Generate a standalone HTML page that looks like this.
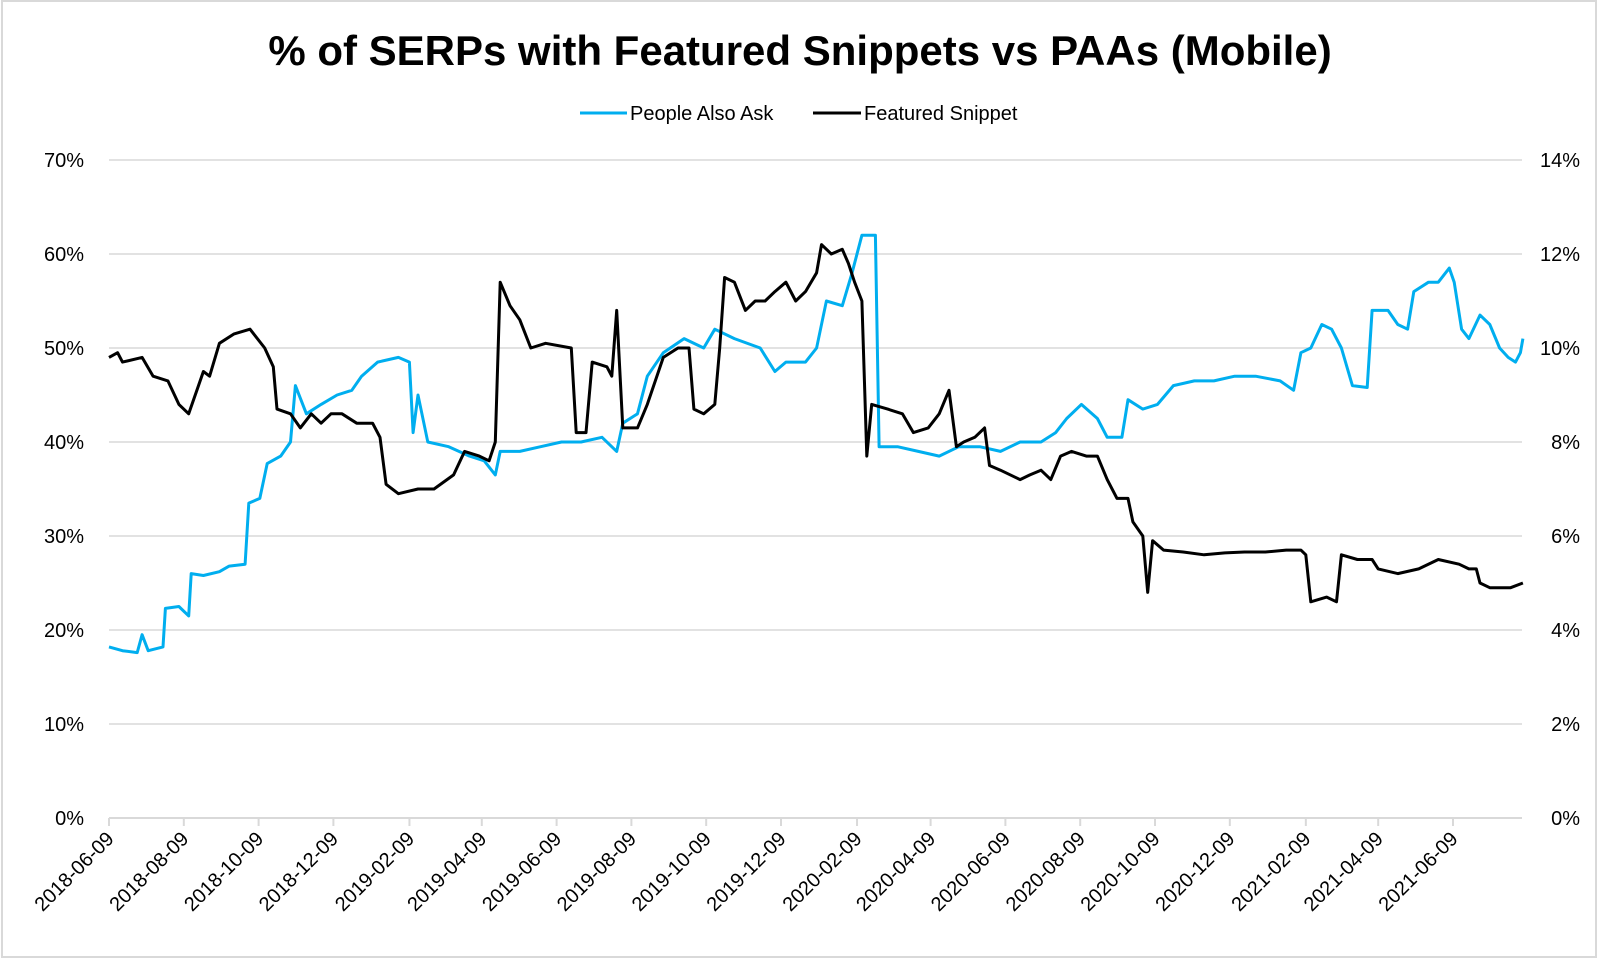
<!DOCTYPE html>
<html><head><meta charset="utf-8"><style>
html,body{margin:0;padding:0;background:#fff;}
svg text{font-family:"Liberation Sans",sans-serif;}
</style></head><body>
<svg id="chart" width="1600" height="962" xmlns="http://www.w3.org/2000/svg">
<rect x="2" y="1" width="1594" height="956" fill="#fff" stroke="#d9d9d9" stroke-width="2"/>
<text x="800" y="65" text-anchor="middle" font-size="42" font-weight="bold" fill="#000">% of SERPs with Featured Snippets vs PAAs (Mobile)</text>
<g>
<g><line x1="580" y1="113" x2="627" y2="113" stroke="#00aeef" stroke-width="3"/><text x="630" y="120" font-size="20" fill="#000">People Also Ask</text></g>
<g><line x1="813" y1="113" x2="861" y2="113" stroke="#000" stroke-width="3"/><text x="864" y="120" font-size="20" fill="#000">Featured Snippet</text></g>
</g>
<g id="grid"></g><g id="axes"></g><g id="series"></g>
</svg>
<script>
const leftTicks=[0,10,20,30,40,50,60,70];
const rightTicks=[0,2,4,6,8,10,12,14];
const xTickLabels=["2018-06-09","2018-08-09","2018-10-09","2018-12-09","2019-02-09","2019-04-09","2019-06-09","2019-08-09","2019-10-09","2019-12-09","2020-02-09","2020-04-09","2020-06-09","2020-08-09","2020-10-09","2020-12-09","2021-02-09","2021-04-09","2021-06-09"];
const paaDays=[0,11,23,27,32,44,46,57,65,67,77,90,98,111,114,123,129,140,148,152,161,173,186,198,206,219,236,245,248,252,260,277,294,306,315,319,335,352,369,385,402,414,419,431,439,452,469,485,494,510,531,543,552,568,577,585,598,606,614,625,628,643,660,677,693,710,727,743,760,772,781,793,806,814,826,831,843,855,868,885,901,918,935,955,966,972,980,989,997,1005,1014,1026,1030,1043,1051,1059,1064,1076,1084,1093,1097,1103,1109,1118,1126,1134,1141,1147,1151,1153];
const paaVals=[18.2,17.8,17.6,19.5,17.8,18.2,22.3,22.5,21.5,26,25.8,26.2,26.8,27,33.5,34,37.7,38.5,40,46,43,44,45,45.5,47,48.5,49,48.5,41,45,40,39.5,38.5,38,36.5,39,39,39.5,40,40,40.5,39,42,43,47,49.5,51,50,52,51,50,47.5,48.5,48.5,50,55,54.5,58,62,62,39.5,39.5,39,38.5,39.5,39.5,39,40,40,41,42.5,44,42.5,40.5,40.5,44.5,43.5,44,46,46.5,46.5,47,47,46.5,45.5,49.5,50,52.5,52,50,46,45.8,54,54,52.5,52,56,57,57,58.5,57,52,51,53.5,52.5,50,49,48.5,49.5,51];
const fsDays=[0,7,11,27,36,48,57,65,73,77,82,90,102,115,127,134,137,148,156,165,173,181,190,202,215,221,226,236,252,265,281,290,302,310,315,319,327,335,344,356,377,381,389,394,406,410,414,419,431,439,452,464,473,477,485,494,498,502,510,519,527,535,543,552,560,568,577,581,589,598,603,608,614,618,622,635,647,656,668,677,685,691,697,706,714,718,727,743,751,760,768,776,785,797,806,814,822,831,835,843,847,851,860,876,893,910,926,943,960,972,976,980,993,1001,1005,1018,1030,1035,1051,1068,1084,1101,1109,1115,1118,1126,1143,1153];
const fsVals=[9.8,9.9,9.7,9.8,9.4,9.3,8.8,8.6,9.2,9.5,9.4,10.1,10.3,10.4,10.0,9.6,8.7,8.6,8.3,8.6,8.4,8.6,8.6,8.4,8.4,8.1,7.1,6.9,7.0,7.0,7.3,7.8,7.7,7.6,8.0,11.4,10.9,10.6,10.0,10.1,10.0,8.2,8.2,9.7,9.6,9.4,10.8,8.3,8.3,8.8,9.8,10.0,10.0,8.7,8.6,8.8,10.0,11.5,11.4,10.8,11.0,11.0,11.2,11.4,11.0,11.2,11.6,12.2,12.0,12.1,11.8,11.4,11.0,7.7,8.8,8.7,8.6,8.2,8.3,8.6,9.1,7.9,8.0,8.1,8.3,7.5,7.4,7.2,7.3,7.4,7.2,7.7,7.8,7.7,7.7,7.2,6.8,6.8,6.3,6.0,4.8,5.9,5.7,5.66,5.6,5.64,5.66,5.66,5.7,5.7,5.6,4.6,4.7,4.6,5.6,5.5,5.5,5.3,5.2,5.3,5.5,5.4,5.3,5.3,5.0,4.9,4.9,5.0];

const NS="http://www.w3.org/2000/svg";
const X0=109,X1=1522,Y0=818,Y1=160;
const startDate=Date.UTC(2018,5,9);
function dayOf(s){const p=s.split('-');return (Date.UTC(+p[0],+p[1]-1,+p[2])-startDate)/86400000;}
const pxPerDay=(1453-X0)/dayOf("2021-06-09");
function xs(d){return X0+d*pxPerDay;}
function yl(v){return Y0-(Y0-Y1)*v/70;}
function yr(v){return Y0-(Y0-Y1)*v/14;}
function mk(tag,attrs,parent){const e=document.createElementNS(NS,tag);for(const k in attrs)e.setAttribute(k,attrs[k]);parent.appendChild(e);return e;}
const grid=document.getElementById('grid'),axes=document.getElementById('axes'),series=document.getElementById('series');
leftTicks.forEach((t,i)=>{
  const y=yl(t);
  if(t>0){const g=mk('line',{x1:X0,x2:X1,y1:y,y2:y,stroke:'#d9d9d9','stroke-width':1.5},grid);
  
  }
  const tl=mk('text',{x:84,y:y+7,'text-anchor':'end','font-size':20,fill:'#000'},axes);tl.textContent=t+'%';
  
  
  const tr=mk('text',{x:1580,y:y+7,'text-anchor':'end','font-size':20,fill:'#000'},axes);tr.textContent=rightTicks[i]+'%';
  
  
});
const ax=mk('line',{x1:X0,x2:X1,y1:Y0,y2:Y0,stroke:'#d9d9d9','stroke-width':2},axes);


xTickLabels.forEach(s=>{
  const x=xs(dayOf(s));
  const tk=mk('line',{x1:x,x2:x,y1:Y0,y2:Y0+8,stroke:'#d9d9d9','stroke-width':2},axes);
  
  
  const t=mk('text',{x:x+6,y:Y0+22,'text-anchor':'end','font-size':20,fill:'#000',transform:`rotate(-45 ${x+6} ${Y0+22})`},axes);
  t.textContent=s;
  
  
});
function line(days,vals,yf,color,name){
  const d=days.map((dd,i)=>(i?'L':'M')+xs(dd).toFixed(1)+' '+yf(vals[i]).toFixed(1)).join(' ');
  const p=mk('path',{d:d,fill:'none',stroke:color,'stroke-width':3,'stroke-linejoin':'round'},series);
  
  
}
line(paaDays,paaVals,yl,'#00aeef','paa-line');
line(fsDays,fsVals,yr,'#000','featured-snippet-line');
</script>
</body></html>
